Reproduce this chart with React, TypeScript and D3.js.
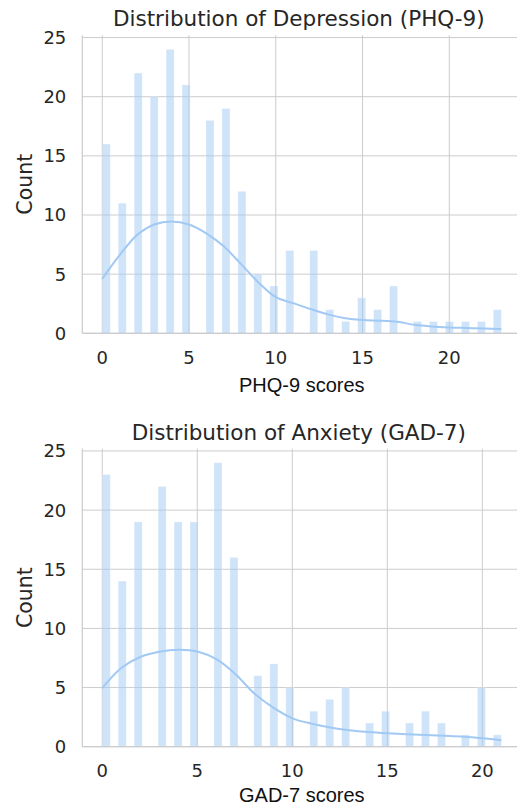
import { useEffect, useRef } from "react";
import * as d3 from "d3";

// counts per integer score
const phqScores = [0, 1, 2, 3, 4, 5, 6, 7, 8, 9, 10, 11, 12, 13, 14, 15, 16, 17, 18, 19, 20, 21, 22, 23];
const phqCounts = [16, 11, 22, 20, 24, 21, 18, 19, 12, 5, 4, 7, 7, 2, 1, 3, 2, 4, 1, 1, 1, 1, 1, 2];
// kde curve (scaled to counts), sampled at each score
const phqKde = [4.6, 6.6, 8.3, 9.2, 9.46, 9.2, 8.45, 7.35, 5.85, 4.3, 3.05, 2.55, 2.05, 1.6, 1.28, 1.12, 1.07, 0.97, 0.72, 0.58, 0.5, 0.45, 0.4, 0.36];

const gadScores = [0, 1, 2, 3, 4, 5, 6, 7, 8, 9, 10, 11, 12, 13, 14, 15, 16, 17, 18, 19, 20, 21];
const gadCounts = [23, 14, 19, 22, 19, 19, 24, 16, 6, 7, 5, 3, 4, 5, 2, 3, 2, 3, 2, 1, 5, 1];
const gadKde = [4.95, 6.65, 7.58, 8.02, 8.2, 8.05, 7.4, 6.15, 4.5, 3.3, 2.4, 1.95, 1.63, 1.4, 1.24, 1.13, 1.05, 0.98, 0.92, 0.85, 0.72, 0.55];

const xTicks = [0, 5, 10, 15, 20];
const yTicks = [0, 5, 10, 15, 20, 25];

const W = 517;
const H = 807;
const BAR = "#a1c9f4";
const GRID = "#cccccc";
const TEXT = "#262626";
const NBINS = 50;

interface PanelSpec {
	title: string;
	xLabel: string;
	scores: number[];
	counts: number[];
	kde: number[];
	top: number;
}

const panels: PanelSpec[] = [
	{ title: "Distribution of Depression (PHQ-9)", xLabel: "PHQ-9 scores", scores: phqScores, counts: phqCounts, kde: phqKde, top: 35.2 },
	{ title: "Distribution of Anxiety (GAD-7)", xLabel: "GAD-7 scores", scores: gadScores, counts: gadCounts, kde: gadKde, top: 448.6 },
];

export default function App() {
	const svgRef = useRef<SVGSVGElement>(null);

	useEffect(() => {
		if (!svgRef.current) return;
		const svg = d3.select(svgRef.current);
		svg.selectAll("*").remove();

		svg.append("rect").attr("width", W).attr("height", H).attr("fill", "white");

		const left = 82.3;
		const width = 439;
		const height = 298.1;

		panels.forEach((p) => {
			const maxScore = d3.max(p.scores) ?? 1;
			const pad = maxScore * 0.05;
			const binW = maxScore / NBINS;

			const x = d3.scaleLinear().domain([-pad, maxScore + pad]).range([0, width]);
			const maxCount = d3.max(p.counts) ?? 1;
			const y = d3.scaleLinear().domain([0, maxCount * 1.05]).range([height, 0]);

			const g = svg.append("g").attr("transform", `translate(${left},${p.top})`);

			// grid
			g.selectAll(".hgrid")
				.data(yTicks)
				.join("line")
				.attr("x1", 0)
				.attr("x2", width)
				.attr("y1", (d) => y(d))
				.attr("y2", (d) => y(d))
				.attr("stroke", GRID)
				.attr("stroke-width", 1);

			g.selectAll(".vgrid")
				.data(xTicks)
				.join("line")
				.attr("x1", (d) => x(d))
				.attr("x2", (d) => x(d))
				.attr("y1", 0)
				.attr("y2", height)
				.attr("stroke", GRID)
				.attr("stroke-width", 1);

			// bars
			const bars = p.scores.map((s, i) => {
				const b = Math.min(NBINS - 1, Math.floor(s / binW + 1e-9));
				return { x0: b * binW, x1: (b + 1) * binW, count: p.counts[i] };
			});

			g.selectAll(".bar")
				.data(bars.filter((d) => d.count > 0))
				.join("rect")
				.attr("x", (d) => x(d.x0))
				.attr("width", (d) => x(d.x1) - x(d.x0))
				.attr("y", (d) => y(d.count))
				.attr("height", (d) => y(0) - y(d.count))
				.attr("fill", BAR)
				.attr("fill-opacity", 0.5)
				.attr("stroke", "white")
				.attr("stroke-opacity", 0.4)
				.attr("stroke-width", 0.6);

			// kde
			const line = d3
				.line<number>()
				.x((_, i) => x(p.scores[i]))
				.y((d) => y(d))
				.curve(d3.curveCatmullRom.alpha(0.5));

			g.append("path")
				.datum(p.kde)
				.attr("fill", "none")
				.attr("stroke", BAR)
				.attr("stroke-width", 2)
				.attr("d", line);

			// spines
			g.append("line")
				.attr("x1", 0)
				.attr("x2", 0)
				.attr("y1", 0)
				.attr("y2", height)
				.attr("stroke", GRID)
				.attr("stroke-width", 1.25);
			g.append("line")
				.attr("x1", 0)
				.attr("x2", width)
				.attr("y1", height)
				.attr("y2", height)
				.attr("stroke", GRID)
				.attr("stroke-width", 1.25);

			// tick labels
			g.selectAll(".ytl")
				.data(yTicks)
				.join("text")
				.attr("x", -16)
				.attr("y", (d) => y(d))
				.attr("dy", "0.36em")
				.attr("text-anchor", "end")
				.attr("fill", TEXT)
				.attr("font-family", "DejaVu Sans")
				.attr("font-size", 18)
				.text((d) => d);

			g.selectAll(".xtl")
				.data(xTicks)
				.join("text")
				.attr("x", (d) => x(d))
				.attr("y", height + 24)
				.attr("dy", "0.36em")
				.attr("text-anchor", "middle")
				.attr("fill", TEXT)
				.attr("font-family", "DejaVu Sans")
				.attr("font-size", 18)
				.text((d) => d);

			// labels
			g.append("text")
				.attr("x", width / 2 - 3)
				.attr("y", -9)
				.attr("text-anchor", "middle")
				.attr("fill", TEXT)
				.attr("font-family", "DejaVu Sans")
				.attr("font-size", 21.5)
				.text(p.title);

			// keep the lower label inside the page
			const labelY = Math.min(height + 58.5, H - p.top - 5);
			g.append("text")
				.attr("x", x(maxScore / 2))
				.attr("y", labelY)
				.attr("text-anchor", "middle")
				.attr("fill", "#111")
				.attr("font-family", "Liberation Sans")
				.attr("font-size", 20)
				.text(p.xLabel);

			g.append("text")
				.attr("transform", `translate(${25 - left},${height / 2}) rotate(-90)`)
				.attr("dy", "0.36em")
				.attr("text-anchor", "middle")
				.attr("fill", TEXT)
				.attr("font-family", "DejaVu Sans")
				.attr("font-size", 20.5)
				.text("Count");
		});
	}, []);

	return (
		<svg
			ref={svgRef}
			width={W}
			height={H}
			style={{ position: "absolute", left: 0, top: 0 }}
		/>
	);
}
